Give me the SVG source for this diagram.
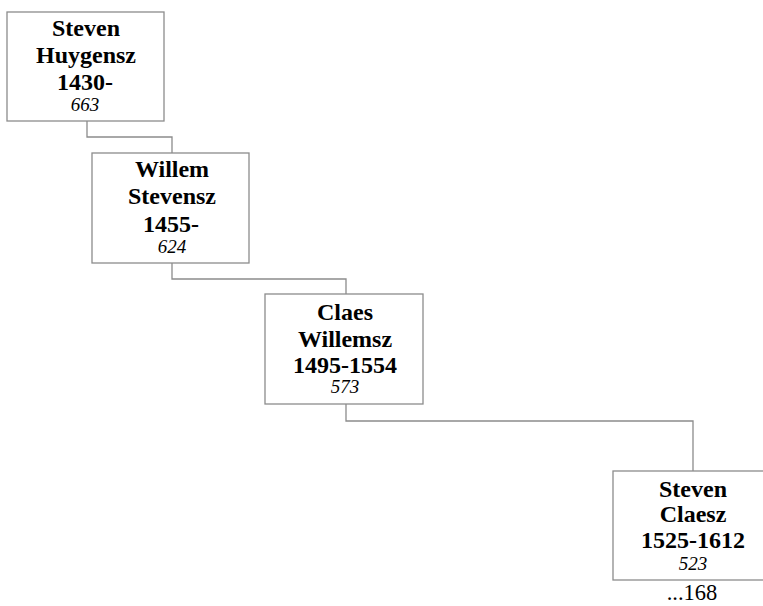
<svg xmlns="http://www.w3.org/2000/svg" width="763" height="606" viewBox="0 0 763 606">
<style>
.box{fill:#fff;stroke:#8c8c8c;stroke-width:1.3}
.c{fill:none;stroke:#8c8c8c;stroke-width:1.3}
.n{font-family:"Liberation Serif",serif;font-weight:bold;font-size:24px;text-anchor:middle;fill:#000}
.y{font-family:"Liberation Serif",serif;font-style:italic;font-size:19px;text-anchor:middle;fill:#000}
.m{font-family:"Liberation Serif",serif;font-size:22.5px;text-anchor:middle;fill:#000}
</style>
<rect width="763" height="606" fill="#fff"/>
<g id="connectors">
<path class="c" d="M87 121V137H172V153"/>
<path class="c" d="M172 263V279H346V294"/>
<path class="c" d="M346 404V421H693V471"/>
</g>
<g id="n1">
<rect class="box" x="7" y="12" width="157" height="109"/>
<text class="n" x="86" y="36">Steven</text>
<text class="n" x="86" y="63">Huygensz</text>
<text class="n" x="85" y="90">1430-</text>
<text class="y" x="85" y="111">663</text>
</g>
<g id="n2">
<rect class="box" x="92" y="153" width="157" height="110"/>
<text class="n" x="172" y="177">Willem</text>
<text class="n" x="172" y="204">Stevensz</text>
<text class="n" x="171" y="232">1455-</text>
<text class="y" x="172" y="253">624</text>
</g>
<g id="n3">
<rect class="box" x="265" y="294" width="158" height="110"/>
<text class="n" x="345" y="320">Claes</text>
<text class="n" x="345" y="347">Willemsz</text>
<text class="n" x="345" y="373">1495-1554</text>
<text class="y" x="345" y="393">573</text>
</g>
<g id="n4">
<rect class="box" x="613" y="471" width="157" height="109"/>
<text class="n" x="693" y="497">Steven</text>
<text class="n" x="693" y="522">Claesz</text>
<text class="n" x="693" y="548">1525-1612</text>
<text class="y" x="693" y="570">523</text>
<text class="m" x="692" y="600">...168</text>
</g>
</svg>
